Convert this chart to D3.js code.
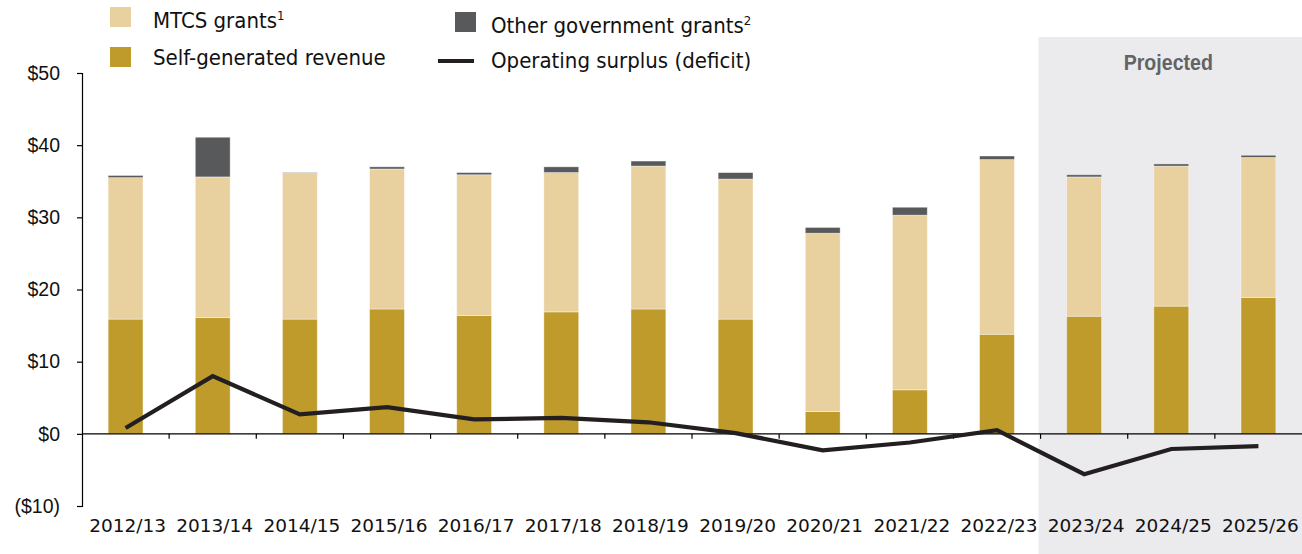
<!DOCTYPE html>
<html>
<head>
<meta charset="utf-8">
<script src="https://cdn.jsdelivr.net/npm/d3@7"></script>
<style>
  body { margin: 0; background: #fff; }
  svg { display: block; }
</style>
</head>
<body>
<div id="chart"></div>
<script>
const years = ['2012/13', '2013/14', '2014/15', '2015/16', '2016/17', '2017/18', '2018/19',
  '2019/20', '2020/21', '2021/22', '2022/23', '2023/24', '2024/25', '2025/26'];
const selfGenerated = [15.9, 16.1, 15.9, 17.3, 16.4, 16.9, 17.3, 15.9, 3.1, 6.1, 13.8, 16.3, 17.7, 18.9];
const mtcsGrants = [19.6, 19.5, 20.2, 19.4, 19.5, 19.3, 19.8, 19.4, 24.7, 24.2, 24.2, 19.3, 19.4, 19.4];
const otherGrants = [0.3, 5.5, 0.1, 0.3, 0.3, 0.8, 0.7, 0.9, 0.8, 1.1, 0.5, 0.3, 0.3, 0.3];
const surplus = [0.8, 8.0, 2.7, 3.7, 2.0, 2.2, 1.6, 0.1, -2.3, -1.2, 0.5, -5.6, -2.1, -1.7];
const yTicks = [-10, 0, 10, 20, 30, 40, 50];
const projectedFrom = '2023/24';

const width = 1302;
const height = 554;
const left = 82;
const colors = { self: '#bf9b2c', mtcs: '#e8d09f', other: '#58595b', line: '#231f20' };
const condensed = '"DejaVu Sans Condensed", "DejaVu Sans", sans-serif';

const svg = d3.select('#chart')
  .append('svg')
  .attr('width', width)
  .attr('height', height);

const x = d3.scaleBand()
  .domain(years)
  .range([left, width])
  .paddingInner(0.6)
  .paddingOuter(0.3);
const step = x.step();
const gap = (step - x.bandwidth()) / 2;
const y = d3.scaleLinear().domain([-10, 50]).range([506, 73]);

// projected shading
const px = x(projectedFrom) - gap - 2;
svg.append('rect')
  .attr('x', px)
  .attr('y', 37)
  .attr('width', width - px)
  .attr('height', height - 37)
  .attr('fill', '#ebebee');
svg.append('text')
  .attr('transform', 'translate(' + ((px + width) / 2 - 2) + ',70) scale(0.89,1)')
  .attr('text-anchor', 'middle')
  .style('font-family', '"Liberation Sans", Arial, sans-serif')
  .style('font-weight', 'bold')
  .style('font-size', '22px')
  .style('fill', '#636365')
  .text('Projected');

// stacked bars
const rows = years.map((yr, i) => ({ year: yr, self: selfGenerated[i], mtcs: mtcsGrants[i], other: otherGrants[i] }));
const stack = d3.stack().keys(['self', 'mtcs', 'other'])(rows);
svg.append('g')
  .selectAll('g')
  .data(stack)
  .enter()
  .append('g')
  .attr('fill', d => colors[d.key])
  .selectAll('rect')
  .data(d => d)
  .enter()
  .append('rect')
  .attr('x', d => x(d.data.year))
  .attr('y', d => y(d[1]))
  .attr('width', x.bandwidth())
  .attr('height', d => y(d[0]) - y(d[1]))
  .attr('stroke', 'rgba(255,255,255,0.5)')
  .attr('stroke-width', 0.8);

// y axis
const yAxis = svg.append('g')
  .attr('transform', 'translate(' + left + ',0)')
  .call(d3.axisLeft(y).tickValues(yTicks).tickSize(5).tickPadding(17)
    .tickFormat(d => d < 0 ? '($' + Math.abs(d) + ')' : '$' + d));
yAxis.select('.domain').attr('stroke', '#000').attr('stroke-width', 1.2);
yAxis.selectAll('.tick line').attr('stroke', '#000').attr('stroke-width', 1.2);
yAxis.selectAll('text')
  .style('font-family', '"Liberation Sans", Arial, sans-serif')
  .style('font-size', '19.5px')
  .style('fill', '#111');

// x axis at zero
const xg = svg.append('g').attr('transform', 'translate(0,' + y(0) + ')');
xg.append('line')
  .attr('x1', left).attr('x2', width)
  .attr('stroke', '#000').attr('stroke-width', 1.2);
xg.selectAll('line.tk')
  .data(years.slice(1))
  .enter()
  .append('line')
  .attr('class', 'tk')
  .attr('x1', d => x(d) - gap)
  .attr('x2', d => x(d) - gap)
  .attr('y1', 0).attr('y2', 5)
  .attr('stroke', '#000').attr('stroke-width', 1.2);

svg.append('g')
  .selectAll('text')
  .data(years)
  .enter()
  .append('text')
  .attr('x', d => x(d) + x.bandwidth() / 2 + 2)
  .attr('y', 532)
  .attr('text-anchor', 'middle')
  .style('font-family', '"DejaVu Sans", Verdana, sans-serif')
  .style('font-size', '18.5px')
  .style('fill', '#111')
  .text(d => d);

// surplus line
const line = d3.line()
  .x((d, i) => x(years[i]) + x.bandwidth() / 2)
  .y(d => y(d));
svg.append('path')
  .datum(surplus)
  .attr('d', line)
  .attr('fill', 'none')
  .attr('stroke', colors.line)
  .attr('stroke-width', 4.2)
  .attr('stroke-linejoin', 'miter');

// legend
const legendFont = g => g.style('font-family', condensed).style('font-size', '22px').style('fill', '#111');
const legend = svg.append('g');
const swatches = [
  { x: 110, y: 7, tx: 153, ty: 28, color: colors.mtcs, label: 'MTCS grants', sup: '1' },
  { x: 110, y: 47, tx: 153, ty: 65, color: colors.self, label: 'Self-generated revenue' },
  { x: 455, y: 12, tx: 491, ty: 33, color: colors.other, label: 'Other government grants', sup: '2' }
];
swatches.forEach(s => {
  legend.append('rect')
    .attr('x', s.x).attr('y', s.y)
    .attr('width', 21).attr('height', 20)
    .attr('fill', s.color);
  const t = legend.append('text')
    .attr('x', s.tx)
    .attr('y', s.ty)
    .call(legendFont)
    .text(s.label);
  if (s.sup) {
    t.append('tspan')
      .attr('dy', -8)
      .style('font-size', '13px')
      .text(s.sup);
  }
});
legend.append('line')
  .attr('x1', 438).attr('x2', 474)
  .attr('y1', 61).attr('y2', 61)
  .attr('stroke', colors.line)
  .attr('stroke-width', 4);
legend.append('text')
  .attr('x', 491)
  .attr('y', 68)
  .call(legendFont)
  .text('Operating surplus (deficit)');
</script>
</body>
</html>
